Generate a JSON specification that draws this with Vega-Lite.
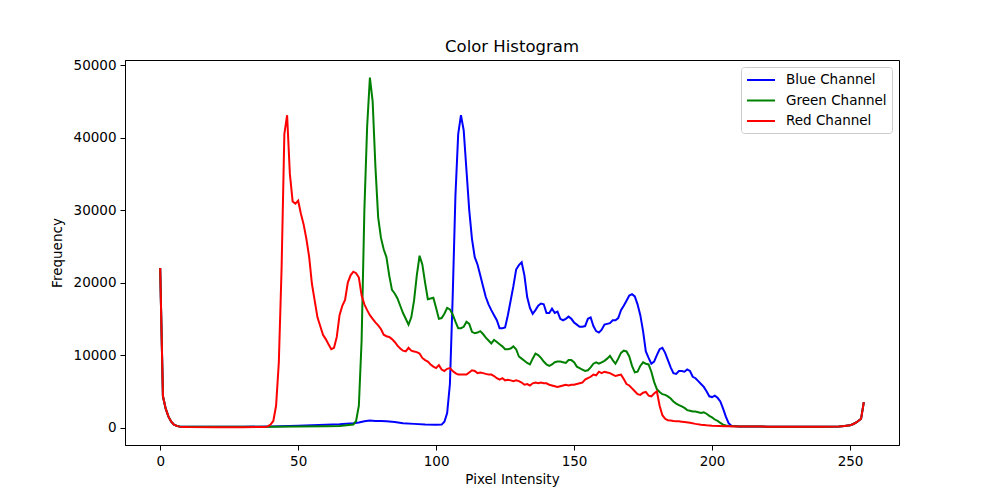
{
  "$schema": "https://vega.github.io/schema/vega-lite/v6.json",
  "width": 774,
  "height": 385,
  "autosize": {"type": "none"},
  "padding": {"left": 125, "top": 60, "right": 101, "bottom": 55},
  "background": "white",
  "title": {"text": "Color Histogram", "fontSize": 16.5, "fontWeight": "normal", "font": "DejaVu Sans", "color": "black", "offset": 3},
  "datasets": {
    "blue": [{"x":0,"y":22000},{"x":1,"y":4300},{"x":2,"y":2600},{"x":3,"y":1500},{"x":4,"y":800},{"x":5,"y":400},{"x":6,"y":220},{"x":7,"y":150},{"x":8,"y":120},{"x":10,"y":100},{"x":20,"y":100},{"x":30,"y":100},{"x":40,"y":150},{"x":50,"y":250},{"x":55,"y":300},{"x":60,"y":380},{"x":65,"y":450},{"x":70,"y":600},{"x":72,"y":700},{"x":74,"y":850},{"x":76,"y":950},{"x":78,"y":900},{"x":80,"y":900},{"x":82,"y":850},{"x":85,"y":750},{"x":88,"y":600},{"x":92,"y":500},{"x":96,"y":400},{"x":100,"y":380},{"x":102,"y":400},{"x":103,"y":800},{"x":104,"y":2000},{"x":105,"y":6000},{"x":106,"y":18000},{"x":107,"y":32000},{"x":108,"y":40500},{"x":109,"y":43100},{"x":110,"y":41000},{"x":111,"y":35500},{"x":112,"y":30000},{"x":113,"y":26000},{"x":114,"y":23500},{"x":115,"y":22500},{"x":116,"y":21000},{"x":117,"y":19500},{"x":118,"y":18000},{"x":119,"y":17000},{"x":120,"y":16200},{"x":121,"y":15500},{"x":122,"y":14800},{"x":123,"y":13700},{"x":124,"y":13700},{"x":125,"y":13800},{"x":126,"y":15500},{"x":127,"y":17500},{"x":128,"y":19500},{"x":129,"y":21800},{"x":130,"y":22400},{"x":131,"y":22800},{"x":132,"y":21000},{"x":133,"y":18000},{"x":134,"y":16500},{"x":135,"y":15700},{"x":136,"y":16200},{"x":137,"y":16800},{"x":138,"y":17100},{"x":139,"y":17000},{"x":140,"y":15800},{"x":141,"y":15800},{"x":142,"y":16400},{"x":143,"y":15800},{"x":144,"y":16000},{"x":145,"y":15000},{"x":146,"y":14800},{"x":147,"y":15000},{"x":148,"y":15300},{"x":149,"y":15000},{"x":150,"y":14500},{"x":151,"y":14200},{"x":152,"y":13900},{"x":153,"y":13900},{"x":154,"y":14000},{"x":155,"y":15000},{"x":156,"y":15200},{"x":157,"y":14000},{"x":158,"y":13300},{"x":159,"y":13100},{"x":160,"y":13500},{"x":161,"y":14200},{"x":162,"y":14300},{"x":163,"y":14400},{"x":164,"y":14800},{"x":165,"y":14800},{"x":166,"y":15100},{"x":167,"y":16200},{"x":168,"y":16800},{"x":169,"y":17500},{"x":170,"y":18200},{"x":171,"y":18400},{"x":172,"y":18100},{"x":173,"y":17000},{"x":174,"y":15500},{"x":175,"y":13300},{"x":176,"y":10500},{"x":177,"y":9600},{"x":178,"y":8800},{"x":179,"y":9100},{"x":180,"y":10000},{"x":181,"y":10800},{"x":182,"y":11000},{"x":183,"y":10300},{"x":184,"y":9300},{"x":185,"y":8300},{"x":186,"y":7500},{"x":187,"y":7400},{"x":188,"y":7800},{"x":189,"y":7800},{"x":190,"y":7700},{"x":191,"y":8000},{"x":192,"y":7800},{"x":193,"y":7000},{"x":194,"y":6800},{"x":195,"y":6400},{"x":196,"y":6000},{"x":197,"y":5600},{"x":198,"y":5000},{"x":199,"y":4300},{"x":200,"y":4200},{"x":201,"y":4400},{"x":202,"y":4100},{"x":203,"y":3600},{"x":204,"y":2600},{"x":205,"y":1500},{"x":206,"y":600},{"x":207,"y":250},{"x":210,"y":150},{"x":220,"y":120},{"x":230,"y":100},{"x":240,"y":100},{"x":246,"y":150},{"x":248,"y":200},{"x":250,"y":300},{"x":251,"y":450},{"x":252,"y":650},{"x":253,"y":900},{"x":254,"y":1200},{"x":255,"y":3500}],
    "green": [{"x":0,"y":22000},{"x":1,"y":4300},{"x":2,"y":2600},{"x":3,"y":1500},{"x":4,"y":800},{"x":5,"y":400},{"x":6,"y":220},{"x":7,"y":150},{"x":8,"y":120},{"x":10,"y":100},{"x":20,"y":90},{"x":30,"y":100},{"x":40,"y":120},{"x":50,"y":150},{"x":60,"y":180},{"x":65,"y":200},{"x":70,"y":400},{"x":71,"y":900},{"x":72,"y":3000},{"x":73,"y":12000},{"x":74,"y":30000},{"x":75,"y":41500},{"x":76,"y":48300},{"x":77,"y":45000},{"x":78,"y":36000},{"x":79,"y":29000},{"x":80,"y":26200},{"x":81,"y":24600},{"x":82,"y":23500},{"x":83,"y":21000},{"x":84,"y":19000},{"x":85,"y":18500},{"x":86,"y":17800},{"x":87,"y":16800},{"x":88,"y":15800},{"x":89,"y":15000},{"x":90,"y":14200},{"x":91,"y":15200},{"x":92,"y":17500},{"x":93,"y":21000},{"x":94,"y":23700},{"x":95,"y":22500},{"x":96,"y":20000},{"x":97,"y":17700},{"x":98,"y":17800},{"x":99,"y":17900},{"x":100,"y":16500},{"x":101,"y":15000},{"x":102,"y":15100},{"x":103,"y":15700},{"x":104,"y":16500},{"x":105,"y":16300},{"x":106,"y":15600},{"x":107,"y":14600},{"x":108,"y":13700},{"x":109,"y":13700},{"x":110,"y":13900},{"x":111,"y":14600},{"x":112,"y":14300},{"x":113,"y":13200},{"x":114,"y":13000},{"x":115,"y":13100},{"x":116,"y":13300},{"x":117,"y":12900},{"x":118,"y":12400},{"x":119,"y":12000},{"x":120,"y":11600},{"x":121,"y":12100},{"x":122,"y":11800},{"x":123,"y":11500},{"x":124,"y":11200},{"x":125,"y":10800},{"x":126,"y":10800},{"x":127,"y":10900},{"x":128,"y":11200},{"x":129,"y":10800},{"x":130,"y":9800},{"x":131,"y":9500},{"x":132,"y":9200},{"x":133,"y":8900},{"x":134,"y":8700},{"x":135,"y":9500},{"x":136,"y":10200},{"x":137,"y":10000},{"x":138,"y":9600},{"x":139,"y":9100},{"x":140,"y":8700},{"x":141,"y":8500},{"x":142,"y":8700},{"x":143,"y":9000},{"x":144,"y":9100},{"x":145,"y":9100},{"x":146,"y":9000},{"x":147,"y":8900},{"x":148,"y":9300},{"x":149,"y":9300},{"x":150,"y":9000},{"x":151,"y":8400},{"x":152,"y":8200},{"x":153,"y":8000},{"x":154,"y":7800},{"x":155,"y":7900},{"x":156,"y":8300},{"x":157,"y":8800},{"x":158,"y":9000},{"x":159,"y":8800},{"x":160,"y":9000},{"x":161,"y":9200},{"x":162,"y":9500},{"x":163,"y":9900},{"x":164,"y":9300},{"x":165,"y":8800},{"x":166,"y":9500},{"x":167,"y":10300},{"x":168,"y":10600},{"x":169,"y":10500},{"x":170,"y":9800},{"x":171,"y":8500},{"x":172,"y":7600},{"x":173,"y":7700},{"x":174,"y":8500},{"x":175,"y":9000},{"x":176,"y":8800},{"x":177,"y":8700},{"x":178,"y":7700},{"x":179,"y":6300},{"x":180,"y":5300},{"x":181,"y":4900},{"x":182,"y":4600},{"x":183,"y":4500},{"x":184,"y":4300},{"x":185,"y":4000},{"x":186,"y":3600},{"x":187,"y":3300},{"x":188,"y":3100},{"x":189,"y":2900},{"x":190,"y":2700},{"x":191,"y":2400},{"x":192,"y":2300},{"x":193,"y":2200},{"x":194,"y":2200},{"x":195,"y":2100},{"x":196,"y":2000},{"x":197,"y":2100},{"x":198,"y":1900},{"x":199,"y":1600},{"x":200,"y":1400},{"x":201,"y":1100},{"x":202,"y":900},{"x":203,"y":650},{"x":204,"y":400},{"x":205,"y":280},{"x":206,"y":200},{"x":210,"y":150},{"x":220,"y":120},{"x":230,"y":100},{"x":240,"y":100},{"x":246,"y":150},{"x":248,"y":200},{"x":250,"y":300},{"x":251,"y":450},{"x":252,"y":650},{"x":253,"y":900},{"x":254,"y":1200},{"x":255,"y":3500}],
    "red": [{"x":0,"y":22000},{"x":1,"y":4300},{"x":2,"y":2600},{"x":3,"y":1500},{"x":4,"y":800},{"x":5,"y":400},{"x":6,"y":220},{"x":7,"y":120},{"x":8,"y":80},{"x":10,"y":60},{"x":20,"y":50},{"x":30,"y":50},{"x":38,"y":60},{"x":39,"y":150},{"x":40,"y":400},{"x":41,"y":900},{"x":42,"y":3000},{"x":43,"y":9000},{"x":44,"y":22000},{"x":45,"y":40500},{"x":46,"y":43100},{"x":47,"y":35000},{"x":48,"y":31200},{"x":49,"y":30900},{"x":50,"y":31300},{"x":51,"y":29500},{"x":52,"y":28000},{"x":53,"y":26000},{"x":54,"y":23500},{"x":55,"y":19800},{"x":56,"y":17500},{"x":57,"y":15200},{"x":58,"y":14000},{"x":59,"y":12800},{"x":60,"y":12200},{"x":61,"y":11500},{"x":62,"y":10800},{"x":63,"y":11000},{"x":64,"y":12500},{"x":65,"y":15500},{"x":66,"y":16800},{"x":67,"y":17600},{"x":68,"y":20000},{"x":69,"y":21000},{"x":70,"y":21500},{"x":71,"y":21300},{"x":72,"y":20700},{"x":73,"y":18200},{"x":74,"y":17000},{"x":75,"y":16200},{"x":76,"y":15500},{"x":77,"y":15000},{"x":78,"y":14500},{"x":79,"y":14100},{"x":80,"y":13600},{"x":81,"y":12800},{"x":82,"y":12600},{"x":83,"y":12500},{"x":84,"y":12200},{"x":85,"y":11800},{"x":86,"y":11300},{"x":87,"y":10900},{"x":88,"y":10600},{"x":89,"y":10500},{"x":90,"y":11000},{"x":91,"y":10600},{"x":92,"y":10500},{"x":93,"y":10400},{"x":94,"y":10200},{"x":95,"y":9600},{"x":96,"y":9300},{"x":97,"y":9100},{"x":98,"y":8700},{"x":99,"y":8400},{"x":100,"y":8200},{"x":101,"y":8600},{"x":102,"y":8000},{"x":103,"y":7800},{"x":104,"y":8100},{"x":105,"y":8200},{"x":106,"y":7800},{"x":107,"y":7500},{"x":108,"y":7300},{"x":109,"y":7300},{"x":110,"y":7300},{"x":111,"y":7300},{"x":112,"y":7600},{"x":113,"y":7900},{"x":114,"y":7800},{"x":115,"y":7500},{"x":116,"y":7600},{"x":117,"y":7500},{"x":118,"y":7400},{"x":119,"y":7300},{"x":120,"y":7300},{"x":121,"y":7100},{"x":122,"y":6800},{"x":123,"y":6600},{"x":124,"y":6800},{"x":125,"y":6500},{"x":126,"y":6600},{"x":127,"y":6500},{"x":128,"y":6400},{"x":129,"y":6500},{"x":130,"y":6400},{"x":131,"y":6200},{"x":132,"y":5900},{"x":133,"y":6000},{"x":134,"y":5800},{"x":135,"y":6100},{"x":136,"y":6200},{"x":137,"y":6100},{"x":138,"y":6200},{"x":139,"y":6100},{"x":140,"y":6100},{"x":141,"y":5900},{"x":142,"y":5800},{"x":143,"y":5700},{"x":144,"y":5600},{"x":145,"y":5700},{"x":146,"y":5800},{"x":147,"y":5900},{"x":148,"y":5800},{"x":149,"y":5900},{"x":150,"y":5900},{"x":151,"y":6000},{"x":152,"y":6100},{"x":153,"y":6200},{"x":154,"y":6600},{"x":155,"y":6800},{"x":156,"y":7000},{"x":157,"y":7300},{"x":158,"y":7200},{"x":159,"y":7700},{"x":160,"y":7500},{"x":161,"y":7700},{"x":162,"y":7600},{"x":163,"y":7500},{"x":164,"y":7300},{"x":165,"y":7100},{"x":166,"y":7200},{"x":167,"y":7300},{"x":168,"y":6700},{"x":169,"y":6000},{"x":170,"y":5800},{"x":171,"y":5400},{"x":172,"y":5000},{"x":173,"y":4600},{"x":174,"y":4500},{"x":175,"y":4800},{"x":176,"y":4900},{"x":177,"y":4400},{"x":178,"y":4300},{"x":179,"y":4700},{"x":180,"y":5000},{"x":181,"y":3000},{"x":182,"y":1700},{"x":183,"y":1200},{"x":184,"y":1000},{"x":185,"y":950},{"x":186,"y":900},{"x":187,"y":870},{"x":188,"y":850},{"x":189,"y":800},{"x":190,"y":750},{"x":192,"y":650},{"x":194,"y":500},{"x":196,"y":380},{"x":198,"y":300},{"x":200,"y":250},{"x":205,"y":180},{"x":210,"y":150},{"x":220,"y":120},{"x":230,"y":100},{"x":240,"y":100},{"x":246,"y":150},{"x":248,"y":200},{"x":250,"y":300},{"x":251,"y":450},{"x":252,"y":650},{"x":253,"y":900},{"x":254,"y":1200},{"x":255,"y":3500}]
  },
  "layer": [
    {
      "data": {"name": "blue"},
      "mark": {"type": "line", "strokeWidth": 2, "clip": true},
      "encoding": {
        "x": {"field": "x", "type": "quantitative", "scale": {"domain": [-12.75, 267.75], "nice": false, "zero": false}, "axis": {"title": "Pixel Intensity", "values": [0, 50, 100, 150, 200, 250]}},
        "y": {"field": "y", "type": "quantitative", "scale": {"domain": [-2415, 50715], "nice": false, "zero": false}, "axis": {"title": "Frequency", "values": [0, 10000, 20000, 30000, 40000, 50000], "format": "d"}},
        "color": {"datum": "Blue Channel", "type": "nominal", "scale": {"domain": ["Blue Channel", "Green Channel", "Red Channel"], "range": ["#0000ff", "#008000", "#ff0000"]}, "legend": {"title": null}}
      }
    },
    {
      "data": {"name": "green"},
      "mark": {"type": "line", "strokeWidth": 2, "clip": true},
      "encoding": {
        "x": {"field": "x", "type": "quantitative"},
        "y": {"field": "y", "type": "quantitative"},
        "color": {"datum": "Green Channel", "type": "nominal"}
      }
    },
    {
      "data": {"name": "red"},
      "mark": {"type": "line", "strokeWidth": 2, "clip": true},
      "encoding": {
        "x": {"field": "x", "type": "quantitative"},
        "y": {"field": "y", "type": "quantitative"},
        "color": {"datum": "Red Channel", "type": "nominal"}
      }
    }
  ],
  "config": {
    "font": "DejaVu Sans",
    "view": {"stroke": "black", "strokeWidth": 1},
    "axis": {
      "grid": false,
      "domainColor": "black",
      "tickColor": "black",
      "tickSize": 5,
      "labelColor": "black",
      "titleColor": "black",
      "labelFont": "DejaVu Sans",
      "titleFont": "DejaVu Sans",
      "labelFontSize": 13.5,
      "titleFontSize": 13.5,
      "titleFontWeight": "normal",
      "labelPadding": 4
    },
    "axisX": {"titlePadding": 5, "labelFlush": false},
    "axisY": {"titlePadding": 9, "labelFlush": false},
    "legend": {
      "orient": "top-right",
      "offset": 7,
      "symbolType": "M-1,0L3,0",
      "symbolSize": 196,
      "symbolStrokeWidth": 2,
      "labelFontSize": 13.5,
      "labelFont": "DejaVu Sans",
      "labelColor": "black",
      "rowPadding": 5.5,
      "strokeColor": "#cccccc",
      "fillColor": "rgba(255,255,255,0.8)",
      "padding": 5,
      "cornerRadius": 3,
      "labelOffset": 24
    }
  }
}
